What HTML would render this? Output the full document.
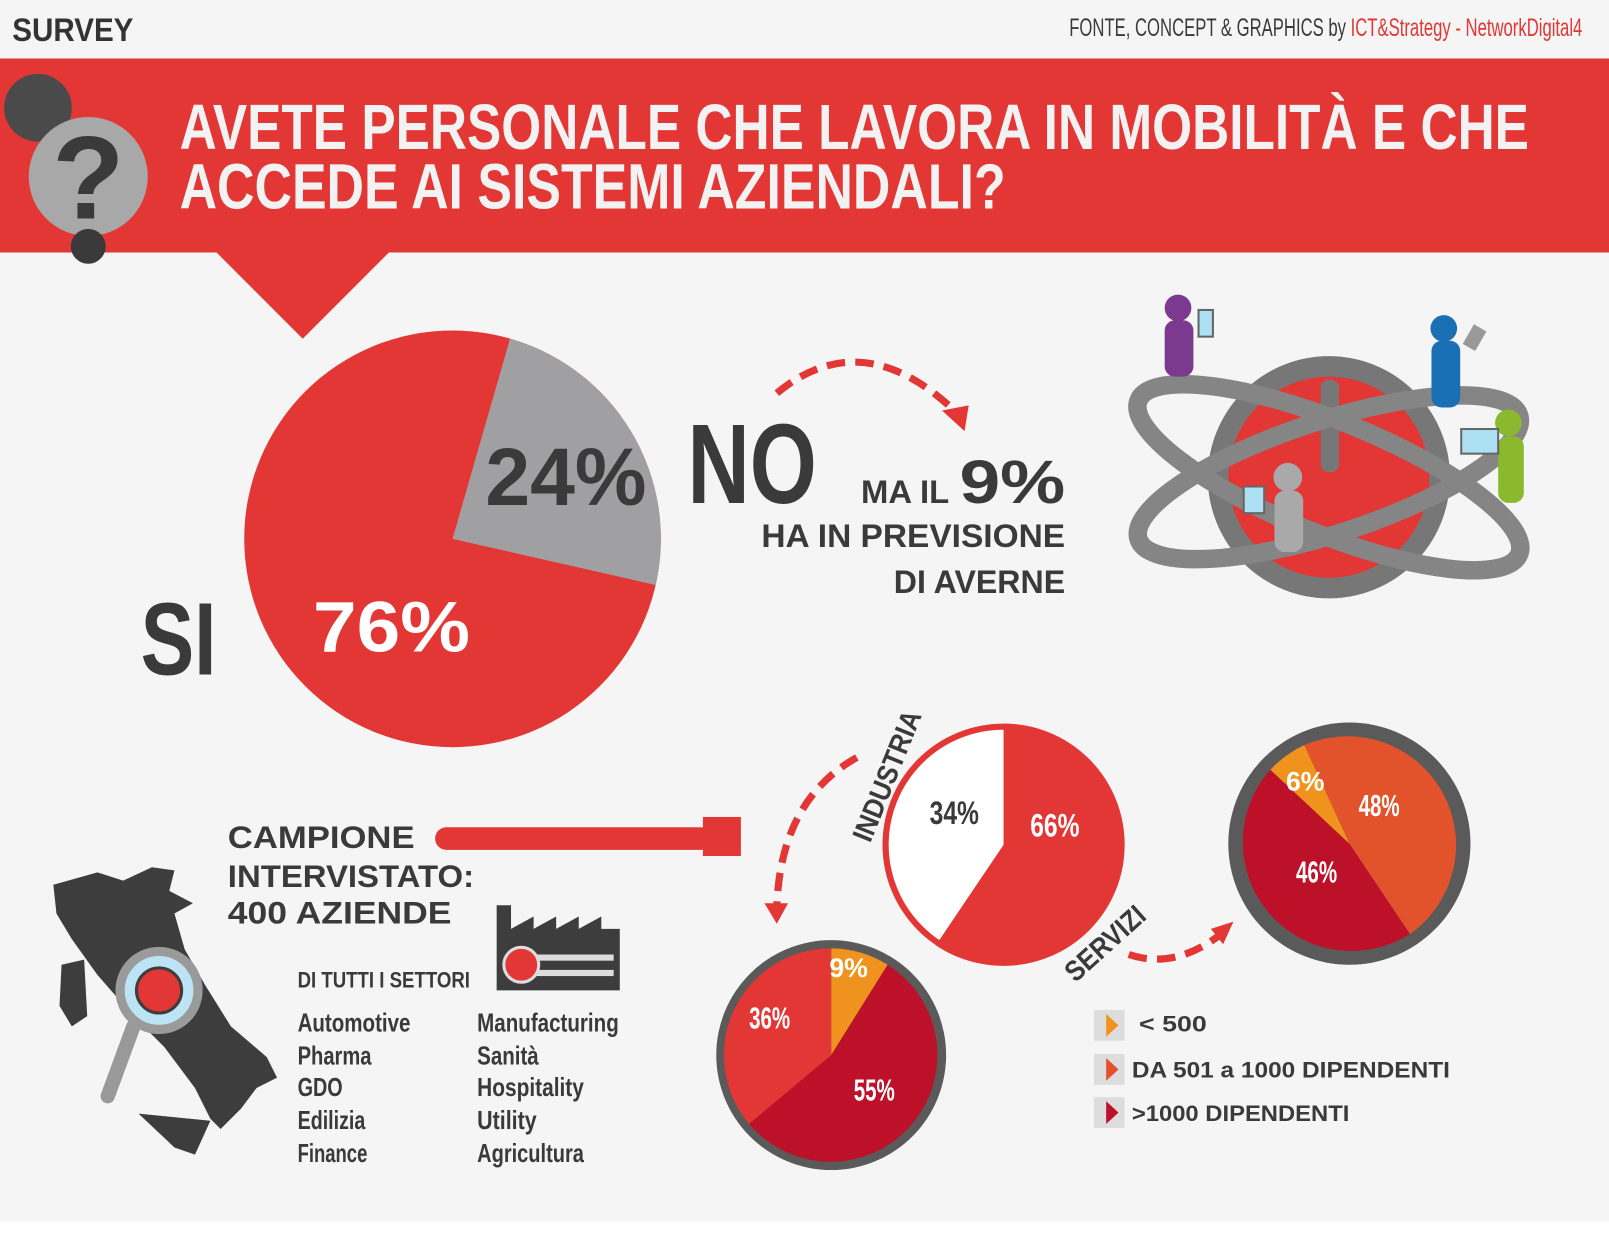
<!DOCTYPE html>
<html><head><meta charset="utf-8"><style>
html,body{margin:0;padding:0;background:#fff;}
svg{display:block;}
text{font-family:"Liberation Sans Narrow","Liberation Sans",sans-serif;font-weight:bold;}
</style></head><body>
<svg width="1609" height="1246" viewBox="0 0 1568 1214" preserveAspectRatio="none" xmlns="http://www.w3.org/2000/svg">
<rect x="0" y="0" width="1568" height="1190" fill="#f5f5f5"/>
<text x="12" y="40" font-size="32" fill="#333" textLength="118" lengthAdjust="spacingAndGlyphs">SURVEY</text>
<text x="1542" y="35" font-size="24" text-anchor="end" fill="#3a3a3a" style="font-weight:normal" textLength="500" lengthAdjust="spacingAndGlyphs">FONTE, CONCEPT &amp; GRAPHICS by <tspan fill="#e23734">ICT&amp;Strategy - NetworkDigital4</tspan></text>
<rect x="0" y="57" width="1568" height="189" fill="#e23734"/>
<polygon points="210,245 380,245 295,330" fill="#e23734"/>
<circle cx="37" cy="105" r="33" fill="#4a4a4a"/>
<circle cx="86" cy="172" r="58" fill="#a8a8a8"/>
<text x="86" y="213" font-size="115" text-anchor="middle" fill="#3a3a3a" font-family="Liberation Sans">?</text>
<circle cx="86" cy="240" r="17" fill="#3a3a3a"/>
<text x="175" y="145" font-size="62" fill="#f2f2f2" textLength="1315" lengthAdjust="spacingAndGlyphs">AVETE PERSONALE CHE LAVORA IN MOBILITÀ E CHE</text>
<text x="175" y="203" font-size="62" fill="#f2f2f2" textLength="805" lengthAdjust="spacingAndGlyphs">ACCEDE AI SISTEMI AZIENDALI?</text>
<!-- big pie -->
<circle cx="441" cy="525" r="203" fill="#e23734"/>
<path d="M441,525 L497,330 A203,203 0 0 1 639,570 Z" fill="#a0a0a2"/>
<text x="473" y="492" font-size="80" fill="#3a3a3a" font-family="Liberation Sans" textLength="157" lengthAdjust="spacingAndGlyphs">24%</text>
<text x="305" y="635" font-size="70" fill="#fff" font-family="Liberation Sans" textLength="153" lengthAdjust="spacingAndGlyphs">76%</text>
<text x="137" y="657" font-size="100" fill="#3a3a3a" textLength="74" lengthAdjust="spacingAndGlyphs">SI</text>
<text x="670" y="490" font-size="110" fill="#3a3a3a" textLength="126" lengthAdjust="spacingAndGlyphs">NO</text>
<text x="925" y="490" font-size="32" fill="#3a3a3a" text-anchor="end" font-family="Liberation Sans">MA IL</text>
<text x="935" y="490" font-size="60" fill="#3a3a3a" font-family="Liberation Sans" textLength="103" lengthAdjust="spacingAndGlyphs">9%</text>
<text x="1038" y="533" font-size="32" fill="#3a3a3a" text-anchor="end" font-family="Liberation Sans" textLength="296" lengthAdjust="spacingAndGlyphs">HA IN PREVISIONE</text>
<text x="1038" y="578" font-size="32" fill="#3a3a3a" text-anchor="end" font-family="Liberation Sans" textLength="167" lengthAdjust="spacingAndGlyphs">DI AVERNE</text>
<path d="M757,383 Q840,315 930,400" fill="none" stroke="#e23734" stroke-width="7" stroke-dasharray="18,10"/>
<polygon points="918,400 944,395 940,420" fill="#e23734"/>
<!-- globe -->
<circle cx="1295" cy="465" r="108" fill="#e23734" stroke="#777" stroke-width="20"/>
<rect x="1287" y="370" width="18" height="90" rx="8" fill="#777"/>
<ellipse cx="1295" cy="465" rx="200" ry="55" transform="rotate(22 1295 465)" fill="none" stroke="#858585" stroke-width="18"/>
<ellipse cx="1295" cy="465" rx="195" ry="55" transform="rotate(-18 1295 465)" fill="none" stroke="#858585" stroke-width="18"/>
<g fill="#7b3a8e"><circle cx="1148" cy="300" r="13"/><rect x="1135" y="312" width="28" height="55" rx="10"/></g>
<rect x="1168" y="302" width="14" height="26" fill="#aee0f4" stroke="#666" stroke-width="2"/>
<g fill="#1a6fb5"><circle cx="1407" cy="320" r="13"/><rect x="1395" y="332" width="28" height="65" rx="10"/></g>
<rect x="1430" y="318" width="14" height="22" fill="#999" transform="rotate(30 1437 329)"/>
<g fill="#8ab92d"><circle cx="1470" cy="412" r="13"/><rect x="1460" y="425" width="25" height="65" rx="10"/></g>
<rect x="1424" y="418" width="36" height="24" fill="#aee0f4" stroke="#666" stroke-width="2"/>
<g fill="#a9a9a9"><circle cx="1255" cy="465" r="14"/><rect x="1242" y="478" width="28" height="60" rx="10"/></g>
<rect x="1212" y="474" width="20" height="26" fill="#aee0f4" stroke="#666" stroke-width="2"/>
<!-- industria / servizi pie -->
<circle cx="978" cy="823" r="115" fill="#fff" stroke="#e23734" stroke-width="6"/>
<path d="M978,823 L978,705 A118,118 0 1 1 912,921 Z" fill="#e23734"/>
<text x="930" y="803" font-size="32" fill="#3a3a3a" text-anchor="middle" textLength="48" lengthAdjust="spacingAndGlyphs">34%</text>
<text x="1028" y="815" font-size="32" fill="#fff" text-anchor="middle" textLength="48" lengthAdjust="spacingAndGlyphs">66%</text>
<text x="0" y="0" font-size="28" fill="#3a3a3a" transform="translate(848,822) rotate(-68)" textLength="135" lengthAdjust="spacingAndGlyphs">INDUSTRIA</text>
<text x="0" y="0" font-size="28" fill="#3a3a3a" transform="translate(1048,958) rotate(-42)" textLength="95" lengthAdjust="spacingAndGlyphs">SERVIZI</text>
<path d="M835,738 Q760,780 757,885" fill="none" stroke="#e23734" stroke-width="7" stroke-dasharray="18,10"/>
<polygon points="745,880 768,880 757,900" fill="#e23734"/>
<path d="M1100,930 Q1145,945 1190,910" fill="none" stroke="#e23734" stroke-width="7" stroke-dasharray="18,10"/>
<polygon points="1180,905 1202,898 1192,920" fill="#e23734"/>
<!-- bottom pie -->
<circle cx="810" cy="1028" r="112" fill="#5a5a5a"/>
<path d="M810,1028 L810,924 A104,104 0 0 1 865,940 Z" fill="#f0931e"/>
<path d="M810,1028 L865,940 A104,104 0 1 1 730,1095 Z" fill="#bd1129"/>
<path d="M810,1028 L730,1095 A104,104 0 0 1 810,924 Z" fill="#e23734"/>
<text x="827" y="952" font-size="26" fill="#fff" text-anchor="middle">9%</text>
<text x="750" y="1002" font-size="30" fill="#fff" text-anchor="middle" textLength="40" lengthAdjust="spacingAndGlyphs">36%</text>
<text x="852" y="1072" font-size="30" fill="#fff" text-anchor="middle" textLength="40" lengthAdjust="spacingAndGlyphs">55%</text>
<!-- right pie -->
<circle cx="1315" cy="822" r="118" fill="#5a5a5a"/>
<path d="M1315,822 L1271,726 A106,106 0 0 1 1374,910 Z" fill="#e2532b"/>
<path d="M1315,822 L1374,910 A106,106 0 0 1 1238,750 Z" fill="#bd1129"/>
<path d="M1315,822 L1238,750 A106,106 0 0 1 1271,726 Z" fill="#f0931e"/>
<text x="1272" y="770" font-size="26" fill="#fff" text-anchor="middle">6%</text>
<text x="1344" y="795" font-size="30" fill="#fff" text-anchor="middle" textLength="40" lengthAdjust="spacingAndGlyphs">48%</text>
<text x="1283" y="860" font-size="30" fill="#fff" text-anchor="middle" textLength="40" lengthAdjust="spacingAndGlyphs">46%</text>
<!-- campione -->
<text x="222" y="826" font-size="31" fill="#3a3a3a" font-family="Liberation Sans" textLength="182" lengthAdjust="spacingAndGlyphs">CAMPIONE</text>
<text x="222" y="864" font-size="31" fill="#3a3a3a" font-family="Liberation Sans" textLength="240" lengthAdjust="spacingAndGlyphs">INTERVISTATO:</text>
<text x="222" y="900" font-size="31" fill="#3a3a3a" font-family="Liberation Sans" textLength="218" lengthAdjust="spacingAndGlyphs">400 AZIENDE</text>
<rect x="424" y="806" width="270" height="22" rx="11" fill="#e23734"/>
<rect x="685" y="796" width="37" height="38" fill="#e23734"/>
<!-- italy -->
<path d="M52,862 L95,850 L120,858 L148,845 L170,848 L165,868 L188,880 L170,890 L180,925 L200,960 L225,1000 L260,1030 L270,1050 L250,1060 L235,1080 L215,1100 L205,1090 L190,1060 L160,1020 L130,990 L95,950 L70,915 L55,890 Z" fill="#3d3d3d"/>
<path d="M60,940 L82,935 L85,990 L70,1000 L58,980 Z" fill="#3d3d3d"/>
<path d="M135,1085 L205,1092 L190,1125 L170,1118 Z" fill="#3d3d3d"/>
<line x1="130" y1="1000" x2="105" y2="1068" stroke="#999" stroke-width="14" stroke-linecap="round"/>
<circle cx="155" cy="965" r="38" fill="#bde4f4" stroke="#9a9a9a" stroke-width="9"/>
<circle cx="155" cy="965" r="22" fill="#e23734" stroke="#3d3d3d" stroke-width="3"/>
<!-- factory -->
<path d="M484,882 L498,882 L498,905 L520,893 L520,905 L542,893 L542,905 L564,893 L564,905 L586,893 L586,905 L604,905 L604,965 L484,965 Z" fill="#3d3d3d"/>
<rect x="500" y="930" width="98" height="6" fill="#ddd"/><rect x="500" y="945" width="98" height="6" fill="#ddd"/>
<circle cx="508" cy="940" r="17" fill="#e23734" stroke="#ddd" stroke-width="3"/>
<text x="290" y="962" font-size="22" fill="#3a3a3a" textLength="168" lengthAdjust="spacingAndGlyphs">DI TUTTI I  SETTORI</text>
<g font-size="25" fill="#3a3a3a">
<text x="290" y="1005" textLength="110" lengthAdjust="spacingAndGlyphs">Automotive</text>
<text x="290" y="1037" textLength="72" lengthAdjust="spacingAndGlyphs">Pharma</text>
<text x="290" y="1068" textLength="44" lengthAdjust="spacingAndGlyphs">GDO</text>
<text x="290" y="1100" textLength="66" lengthAdjust="spacingAndGlyphs">Edilizia</text>
<text x="290" y="1132" textLength="68" lengthAdjust="spacingAndGlyphs">Finance</text>
<text x="465" y="1005" textLength="138" lengthAdjust="spacingAndGlyphs">Manufacturing</text>
<text x="465" y="1037" textLength="60" lengthAdjust="spacingAndGlyphs">Sanità</text>
<text x="465" y="1068" textLength="104" lengthAdjust="spacingAndGlyphs">Hospitality</text>
<text x="465" y="1100" textLength="58" lengthAdjust="spacingAndGlyphs">Utility</text>
<text x="465" y="1132" textLength="104" lengthAdjust="spacingAndGlyphs">Agricultura</text>
</g>
<!-- legend -->
<rect x="1066" y="984" width="30" height="30" fill="#ddd"/><polygon points="1078,988 1090,999 1078,1010" fill="#f0931e"/>
<rect x="1066" y="1027" width="30" height="30" fill="#ddd"/><polygon points="1078,1031 1090,1042 1078,1053" fill="#e2532b"/>
<rect x="1066" y="1069" width="30" height="30" fill="#ddd"/><polygon points="1078,1073 1090,1084 1078,1095" fill="#bd1129"/>
<g font-size="22" fill="#3a3a3a" font-family="Liberation Sans">
<text x="1110" y="1005" textLength="66" lengthAdjust="spacingAndGlyphs">&lt; 500</text>
<text x="1103" y="1050" textLength="310" lengthAdjust="spacingAndGlyphs">DA 501 a 1000 DIPENDENTI</text>
<text x="1103" y="1092" textLength="212" lengthAdjust="spacingAndGlyphs">&gt;1000 DIPENDENTI</text>
</g>
</svg>
</body></html>
